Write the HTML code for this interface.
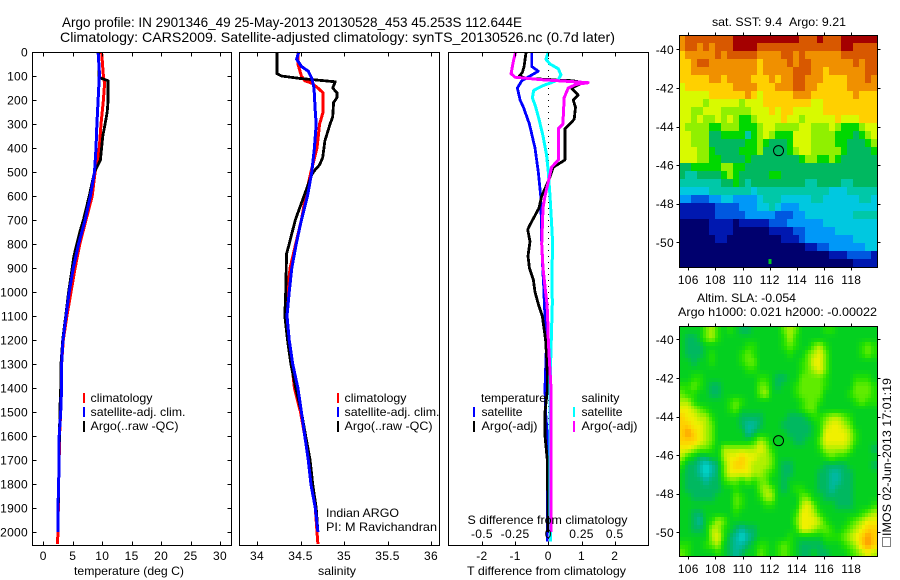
<!DOCTYPE html>
<html>
<head>
<meta charset="utf-8">
<title>Argo profile</title>
<style>
html,body{margin:0;padding:0;background:#fff;}
svg{display:block;}
text{font-family:"Liberation Sans",sans-serif;fill:#000;font-size:12px;}
.f{fill:none;stroke:#000;stroke-width:1;shape-rendering:crispEdges;}
.big{font-size:14px;}
</style>
</head>
<body>
<svg id="chart" width="900" height="580" viewBox="0 0 900 580" xmlns="http://www.w3.org/2000/svg">
<rect x="0" y="0" width="900" height="580" fill="#fff"/>
<text class="big" x="62" y="27" textLength="460" lengthAdjust="spacingAndGlyphs">Argo profile: IN 2901346_49 25-May-2013 20130528_453 45.253S 112.644E</text>
<text class="big" x="60" y="42" textLength="555" lengthAdjust="spacingAndGlyphs">Climatology: CARS2009. Satellite-adjusted climatology: synTS_20130526.nc (0.7d later)</text>
<g id="marks"></g>
<rect class="f" x="32.5" y="52.5" width="199" height="493"/>
<rect class="f" x="239.5" y="52.5" width="200" height="493"/>
<rect class="f" x="448.5" y="52.5" width="200" height="493"/>
<rect class="f" x="679.5" y="35.5" width="198" height="232"/>
<rect class="f" x="679.5" y="326.5" width="198" height="230"/>
<g id="ticks"></g>
<text x="129" y="575" text-anchor="middle" textLength="110" lengthAdjust="spacingAndGlyphs">temperature (deg C)</text>
<text x="337" y="575" text-anchor="middle" textLength="38" lengthAdjust="spacingAndGlyphs">salinity</text>
<text x="546.5" y="575" text-anchor="middle" textLength="159" lengthAdjust="spacingAndGlyphs">T difference from climatology</text>
<text x="467.5" y="524" textLength="160" lengthAdjust="spacingAndGlyphs">S difference from climatology</text>

<g>
<rect x="83" y="393" width="2" height="10" fill="#f00"/>
<text x="90.5" y="402" textLength="62" lengthAdjust="spacingAndGlyphs">climatology</text>
<rect x="83" y="407" width="2" height="10" fill="#00f"/>
<text x="90.5" y="416" textLength="95" lengthAdjust="spacingAndGlyphs">satellite-adj. clim.</text>
<rect x="83" y="421" width="2" height="11" fill="#000"/>
<text x="90.5" y="430" textLength="88" lengthAdjust="spacingAndGlyphs">Argo(..raw -QC)</text>
</g>
<g>
<rect x="337" y="393" width="2" height="10" fill="#f00"/>
<text x="344.5" y="402" textLength="62" lengthAdjust="spacingAndGlyphs">climatology</text>
<rect x="337" y="407" width="2" height="10" fill="#00f"/>
<text x="344.5" y="416" textLength="95" lengthAdjust="spacingAndGlyphs">satellite-adj. clim.</text>
<rect x="337" y="421" width="2" height="11" fill="#000"/>
<text x="344.5" y="430" textLength="88" lengthAdjust="spacingAndGlyphs">Argo(..raw -QC)</text>
</g>
<g>
<text x="481" y="402" textLength="65" lengthAdjust="spacingAndGlyphs">temperature</text>
<rect x="473" y="407" width="2" height="10" fill="#00f"/>
<text x="481.5" y="416" textLength="41" lengthAdjust="spacingAndGlyphs">satellite</text>
<rect x="473" y="421" width="2" height="11" fill="#000"/>
<text x="481.5" y="430" textLength="56" lengthAdjust="spacingAndGlyphs">Argo(-adj)</text>
<text x="581.5" y="402" textLength="38" lengthAdjust="spacingAndGlyphs">salinity</text>
<rect x="573" y="407" width="2" height="10" fill="#0ff"/>
<text x="581.5" y="416" textLength="41" lengthAdjust="spacingAndGlyphs">satellite</text>
<rect x="573" y="421" width="2" height="11" fill="#f0f"/>
<text x="581.5" y="430" textLength="56" lengthAdjust="spacingAndGlyphs">Argo(-adj)</text>
</g>
<text x="326" y="517" textLength="73" lengthAdjust="spacingAndGlyphs">Indian ARGO</text>
<text x="326" y="531" textLength="111" lengthAdjust="spacingAndGlyphs">PI: M Ravichandran</text>
<text x="712" y="26" textLength="134" lengthAdjust="spacingAndGlyphs">sat. SST: 9.4&#160;&#160;Argo: 9.21</text>
<text x="697" y="302" textLength="99" lengthAdjust="spacingAndGlyphs">Altim. SLA: -0.054</text>
<text x="678" y="316" textLength="199" lengthAdjust="spacingAndGlyphs">Argo h1000: 0.021 h2000: -0.00022</text>
<g fill="none" stroke="#000" stroke-width="1" stroke-dasharray="1 1" shape-rendering="crispEdges">
<rect x="882.5" y="537.5" width="8" height="9"/>
</g>
<text transform="translate(891,536) rotate(-90)" textLength="158" lengthAdjust="spacingAndGlyphs">IMOS 02-Jun-2013 17:01:19</text>
</svg>
<script>
/* temperature panel data: depth (m) and temperature (deg C) */
var tempClimDepth = [0,100,130,200,300,400,480,500,600,700,800,900,1000,1100,1200,1300,1400,1500,1600,1700,1800,1900,2000,2050];
var tempClimValues = [9.9,10.2,10.4,10.2,9.8,9.5,9.0,8.8,8.3,7.25,6.2,5.4,4.7,4.0,3.4,3.1,3.1,2.95,2.75,2.7,2.6,2.55,2.5,2.4];
var tempArgoDepth = [0,105,110,120,200,250,300,350,400,450,480,500,600,700,750,850,900,1000,1100,1200,1300,1400,1500,1600,1700,1800,1900,2000];
var tempArgoValues = [9.4,9.4,9.9,11.0,11.0,10.85,10.5,10.1,9.9,9.7,9.1,8.7,7.8,6.8,6.2,5.2,4.9,4.3,3.8,3.3,3.0,2.95,2.8,2.75,2.65,2.6,2.55,2.5];
var tempSatDepth = [0,80,100,200,300,400,500,600,700,800,900,1000,1100,1200,1300,1400,1500,1600,1700,1800,1900,2000];
var tempSatValues = [9.3,9.5,9.5,9.3,9.1,8.95,8.7,8.0,7.1,6.0,5.1,4.4,3.85,3.35,3.1,3.1,2.95,2.7,2.7,2.6,2.5,2.5];

/* salinity panel data */
var salClimDepth = [0,50,100,120,130,150,170,250,300,400,500,600,700,800,900,1000,1100,1200,1300,1400,1500,1600,1700,1800,1900,2000,2050];
var salClimValues = [34.475,34.47,34.51,34.55,34.63,34.70,34.76,34.76,34.72,34.69,34.62,34.56,34.51,34.445,34.38,34.35,34.33,34.36,34.40,34.43,34.50,34.55,34.59,34.63,34.67,34.69,34.70];
var salArgoDepth = [0,90,100,110,124,150,170,190,210,270,300,370,440,470,490,510,600,700,800,840,1000,1100,1200,1300,1400,1500,1600,1700,1800,1900,2000];
var salArgoValues = [34.23,34.23,34.28,34.49,34.9,34.87,34.92,34.92,34.88,34.87,34.84,34.78,34.755,34.72,34.67,34.63,34.54,34.44,34.37,34.34,34.33,34.32,34.35,34.39,34.445,34.51,34.56,34.61,34.64,34.68,34.70];
var salSatDepth = [0,30,60,80,110,150,250,300,400,500,600,700,800,900,1000,1100,1200,1300,1400,1500,1600,1700,1800,1900,2000];
var salSatValues = [34.48,34.455,34.51,34.59,34.63,34.655,34.67,34.68,34.66,34.63,34.58,34.51,34.45,34.40,34.37,34.345,34.37,34.41,34.47,34.51,34.55,34.59,34.62,34.67,34.70];

/* difference panel data */
var dTSatDepth = [0,60,80,100,120,150,200,230,300,400,500,600,700,800,900,1000,1050,1100,1200,1400,1500,1600,1700,2000,2040];
var dTSatValues = [-0.5,-0.5,-0.3,-0.55,-0.8,-0.93,-0.85,-0.75,-0.57,-0.4,-0.3,-0.23,-0.21,-0.2,-0.17,-0.13,-0.12,-0.1,-0.05,-0.1,-0.08,-0.03,-0.03,-0.03,-0.03];
var dTArgoDepth = [0,60,85,100,110,120,128,150,180,200,230,280,300,320,450,480,520,560,600,650,720,740,790,850,900,950,1000,1050,1100,1200,1300,1400,1500,1600,1700,1800,2000];
var dTArgoValues = [-0.67,-0.73,-0.78,-0.87,-0.65,0.75,1.05,0.7,0.9,0.75,0.82,0.78,0.65,0.5,0.5,0.15,0.05,-0.07,-0.2,-0.28,-0.55,-0.62,-0.55,-0.61,-0.57,-0.45,-0.4,-0.3,-0.18,-0.08,-0.04,-0.02,-0.1,-0.1,-0.03,-0.02,-0.01];
var dSSatDepth = [0,30,50,70,95,115,130,140,160,190,230,280,350,430,500,600,700,800,900,1050,1400,2000,2040];
var dSSatValues = [0,-0.018,0.013,0.075,0.095,0.075,0.013,-0.04,-0.11,-0.12,-0.095,-0.07,-0.04,-0.013,0,0.013,0.023,0.033,0.028,0.03,0.012,0.015,0.015];
var dSArgoDepth = [0,30,60,90,105,115,122,128,135,150,190,300,320,450,480,520,600,650,800,900,1000,1050,1100,1200,1300,1400,1600,2000];
var dSArgoValues = [-0.245,-0.26,-0.27,-0.28,-0.25,-0.06,0.14,0.30,0.21,0.15,0.12,0.11,0.075,0.075,0.025,0.008,-0.025,-0.04,-0.05,-0.04,-0.02,-0.01,-0.005,0,0.01,0.02,0.02,0.02];

/* tick labels */
var depthTicks = [0,100,200,300,400,500,600,700,800,900,1000,1100,1200,1300,1400,1500,1600,1700,1800,1900,2000];
var tempTicks = [0,5,10,15,20,25,30];
var salTicks = [34,34.5,35,35.5,36];
var dTTicks = [-2,-1,0,1,2];
var dSTicks = [-0.5,-0.25,0,0.25,0.5];
var lonTicks = [106,108,110,112,114,116,118];
var latTicks = [-40,-42,-44,-46,-48,-50];

/* float position */
var floatLon = 112.644;
var floatLat = -45.253;
/* isolated green grid point near the south edge of the SST map */
var sstSpotLon = 112.0;
var sstSpotLat = -51.0;

/* SST colour-scale level per grid cell, north to south */
var sstGrid = [
[11,12,12,12,12,12,12,12,12,13,13,13,13,13,13,13,13,13,13,13,12,12,12,13,12,12,12,13,13,13,13,13,13],
[11,12,12,11,12,11,12,12,12,13,13,13,13,12,12,12,12,12,12,12,12,12,12,12,12,12,12,13,13,12,12,12,12],
[10,11,11,11,11,11,12,11,12,12,12,12,12,11,11,11,11,12,12,11,12,11,11,11,11,11,11,12,12,12,12,12,12],
[10,10,11,12,12,11,11,11,11,11,11,11,11,10,11,11,11,11,12,11,12,12,11,11,11,11,11,11,11,12,11,12,12],
[10,10,11,11,11,11,11,11,11,11,11,11,11,10,11,11,11,11,11,12,12,12,11,11,10,11,11,11,11,11,11,12,12],
[10,10,10,10,10,11,11,10,11,11,11,11,10,10,10,11,10,11,11,12,12,11,11,11,10,10,10,10,11,11,11,12,11],
[9,10,10,10,10,10,10,10,10,11,11,11,11,10,10,10,11,11,11,12,12,11,11,10,10,10,10,10,11,11,11,11,11],
[9,9,9,9,9,10,10,10,10,10,10,11,10,9,10,10,10,10,10,11,11,11,10,10,10,10,10,10,10,11,10,10,10],
[9,9,9,9,8,9,9,9,9,9,8,9,9,9,10,10,10,10,10,10,10,10,9,9,10,10,10,10,10,10,10,10,10],
[9,9,8,8,9,9,9,8,8,8,8,8,9,9,9,10,9,10,10,9,9,9,9,9,10,10,10,10,10,10,10,10,10],
[9,9,8,9,8,8,9,8,9,8,7,7,8,9,9,9,9,10,9,9,8,9,9,9,9,9,10,9,9,9,10,10,10],
[9,8,8,8,8,7,7,8,8,8,7,7,7,8,9,9,8,8,8,8,9,9,8,8,8,9,8,7,7,7,8,9,9],
[9,9,8,8,8,6,6,7,7,7,7,5,7,8,9,8,7,7,7,9,9,9,8,8,8,8,7,7,7,6,7,8,9],
[9,9,8,8,8,6,6,6,6,6,6,7,7,8,7,6,6,6,7,9,9,9,8,8,8,8,7,7,6,6,6,7,8],
[9,9,9,8,8,7,6,6,6,6,7,7,7,8,6,6,6,6,7,8,9,9,8,8,8,8,8,7,6,6,6,6,7],
[9,9,9,8,8,7,7,6,6,6,6,7,6,6,6,6,6,6,6,6,7,8,8,7,7,8,7,6,6,6,6,6,6],
[6,6,7,7,7,7,7,8,8,7,7,6,6,6,6,6,6,6,6,6,6,6,6,6,6,6,6,6,6,6,6,6,6],
[6,5,5,6,6,6,6,7,8,7,6,6,6,6,6,7,7,6,6,6,6,6,6,6,6,6,6,6,6,6,6,6,6],
[5,5,5,5,5,5,5,6,6,7,6,5,6,6,6,6,6,6,6,6,6,5,5,6,6,6,6,5,5,6,6,6,6],
[4,4,4,4,4,5,5,5,5,5,5,5,4,5,5,5,5,5,5,5,5,5,5,5,5,4,4,4,5,5,5,5,5],
[3,3,2,2,2,3,3,4,4,3,3,3,3,4,5,5,5,4,4,4,4,4,5,5,4,4,4,4,4,4,5,5,4],
[1,1,1,1,1,1,2,2,2,2,3,3,3,4,4,5,4,3,3,3,4,4,4,4,4,4,4,4,4,4,4,4,4],
[1,1,1,1,1,1,2,2,2,2,2,3,3,3,3,3,2,2,2,3,3,4,4,4,4,4,4,4,4,5,5,5,5],
[0,0,0,0,0,1,1,1,1,0,1,1,1,1,1,2,2,2,3,3,3,3,3,3,4,4,4,4,4,4,4,4,4],
[0,0,0,0,0,1,1,1,1,0,0,0,0,0,0,1,1,1,1,2,2,3,3,3,3,3,4,4,4,4,4,4,4],
[0,0,0,0,0,0,1,1,0,0,0,0,0,0,0,0,0,1,1,1,2,3,3,3,3,3,3,3,3,4,4,4,4],
[0,0,0,0,0,0,0,0,0,0,0,0,0,0,0,0,0,0,0,0,0,1,1,2,2,3,3,3,3,3,3,4,4],
[0,0,0,0,0,0,0,0,0,0,0,0,0,0,0,0,0,0,0,0,0,0,0,0,0,1,1,1,2,2,2,2,1],
[0,0,0,0,0,0,0,0,0,0,0,0,0,0,0,0,0,0,0,0,0,0,0,0,0,0,0,0,0,1,1,1,1]
];

/* SLA colour-scale level per grid cell, north to south */
var slaGrid = [
[3,3,3,3,5,6,4,3,4,3,2,2,3,3,3,3,3,5,6,5,3,3,3,3,4,4,3,3,3,3,3,3,3],
[3,2,2,3,5,6,4,3,3,3,3,3,3,3,3,3,3,4,6,4,3,3,3,3,3,3,3,3,3,3,3,3,3],
[3,2,2,2,3,3,3,3,3,3,3,4,4,3,3,3,3,4,5,4,3,3,5,6,4,3,3,3,3,3,4,5,4],
[3,2,2,2,3,4,3,3,3,3,4,5,4,3,3,3,3,3,4,3,3,5,6,7,5,3,3,3,3,3,4,5,4],
[3,3,2,3,3,4,3,3,3,3,4,5,5,3,3,3,3,3,3,3,4,5,7,7,5,3,3,3,3,3,3,3,3],
[3,3,3,3,3,3,3,3,3,3,3,4,4,3,3,3,3,3,3,3,4,5,6,7,5,3,3,3,3,3,3,3,3],
[3,3,4,4,3,3,3,3,3,3,3,3,3,4,4,3,2,2,3,3,5,5,5,5,4,3,3,3,3,4,4,4,3],
[4,4,5,4,3,2,2,3,3,3,3,3,3,5,5,3,2,3,3,4,5,5,5,5,4,3,3,3,3,5,5,5,4],
[5,4,4,3,3,2,2,3,3,3,3,3,3,5,6,3,3,3,3,4,5,5,5,5,3,3,3,3,4,5,5,5,4],
[6,6,4,3,3,3,3,3,4,5,4,3,3,3,3,3,3,3,3,3,4,5,5,4,3,3,3,3,3,4,5,4,4],
[7,7,6,5,4,3,3,3,4,5,3,3,3,3,3,3,3,3,3,3,4,5,5,3,3,3,3,3,3,3,3,3,3],
[8,7,7,6,6,4,3,3,3,3,2,2,2,2,3,3,3,3,2,2,2,3,4,4,5,6,6,5,4,3,3,3,3],
[8,8,7,7,6,5,3,3,3,3,2,1,1,2,3,3,3,2,2,2,2,2,3,4,6,7,7,6,5,3,3,3,3],
[8,9,8,7,6,5,3,3,3,3,3,1,2,3,3,3,3,3,2,2,2,2,3,4,7,7,7,7,6,4,3,3,3],
[8,8,8,7,6,5,3,3,3,3,3,3,4,6,5,3,3,3,3,2,2,3,3,5,7,7,7,7,6,4,3,3,3],
[7,7,6,5,5,4,3,6,6,6,6,6,6,7,6,4,3,3,3,3,3,3,3,4,6,6,6,6,5,3,3,3,2],
[6,4,3,2,2,3,3,6,7,7,8,7,7,6,6,5,3,3,3,3,3,3,3,3,4,5,4,4,3,3,3,3,3],
[4,2,2,1,0,1,2,5,7,8,8,7,6,6,6,5,3,2,2,3,3,3,3,3,2,2,2,2,3,3,3,3,2],
[3,2,2,1,0,1,2,5,7,7,7,7,6,6,5,4,3,2,2,3,3,3,3,2,2,1,1,2,2,3,3,3,3],
[3,2,2,2,1,2,2,4,5,5,4,5,4,5,5,3,3,2,3,3,3,3,3,2,2,1,1,2,2,3,3,3,3],
[3,2,2,2,2,2,2,3,3,4,3,3,3,5,6,5,3,2,3,4,4,3,3,2,2,1,2,2,2,3,3,3,3],
[3,3,2,2,2,2,3,3,3,5,4,3,3,4,6,6,3,3,3,3,5,5,3,3,2,2,2,2,2,3,3,3,3],
[3,3,3,3,3,3,3,3,3,5,4,3,3,3,4,4,3,3,3,3,6,7,5,3,3,3,2,2,2,3,3,3,4],
[3,3,2,2,3,3,3,3,3,4,3,3,3,3,3,3,3,3,3,4,7,7,6,4,3,3,3,3,3,3,4,5,6],
[3,3,2,1,3,4,6,5,3,3,3,3,3,3,3,3,3,3,3,5,7,7,7,6,4,3,3,3,4,5,6,7,7],
[3,3,2,2,3,6,6,4,3,2,1,2,2,3,3,3,3,3,3,4,7,7,6,5,5,4,3,4,5,6,7,8,8],
[3,3,3,3,3,6,7,4,2,1,0,1,2,3,3,3,3,3,4,3,3,3,3,3,4,4,4,5,6,7,8,9,8],
[4,4,3,3,4,5,6,3,2,1,1,2,3,4,4,3,4,5,4,3,2,2,2,2,3,3,3,4,5,6,8,9,8],
[5,4,3,3,3,3,4,3,2,1,2,3,3,5,4,3,4,5,4,3,2,2,3,2,2,3,3,3,4,5,6,7,6]
];

var sstColors = ['#00006e','#0018b0','#0058e0','#0098f8','#00c8e0','#00c8a8','#00b860','#00d800','#90f000','#d8fa00','#ffd000','#f09000','#d85800','#a40000'];
var slaColors = ['#00d8d0','#00b8a0','#00b860','#04d020','#20e000','#60ec00','#b0f000','#f0f000','#ffd000','#ff9800'];

var svgNS = 'http://www.w3.org/2000/svg';
var marks = document.getElementById('marks');
var ticks = document.getElementById('ticks');

function mk(tag, parent, attrs) {
  var el = document.createElementNS(svgNS, tag);
  for (var k in attrs) el.setAttribute(k, attrs[k]);
  parent.appendChild(el);
  return el;
}

/* axis functions */
function yDepth(d) { return 52 + d * 0.24; }
function xTemp(t) { return 43.3 + t * 5.89; }
function xSal(s) { return 257 + (s - 34) * 87; }
function xDT(t) { return 548.3 + t * 33.2; }
function xDS(s) { return 548.3 + s * 132.8; }
function xLon(lon) { return 688.3 + (lon - 106) * 13.58; }
function ySst(lat) { return 49.3 + (-40 - lat) * 19.3; }
function ySla(lat) { return 339.3 + (-40 - lat) * 19.3; }

function pts(depths, values, xf) {
  var out = [];
  for (var i = 0; i < values.length; i++) {
    out.push(xf(values[i]).toFixed(1) + ',' + yDepth(depths[i]).toFixed(1));
  }
  return out.join(' ');
}

function line(depths, values, xf, color, width) {
  return mk('polyline', marks, {
    points: pts(depths, values, xf),
    fill: 'none',
    stroke: color,
    'stroke-width': width,
    'stroke-linejoin': 'round',
    'shape-rendering': 'crispEdges'
  });
}

/* colour for a fractional level on a stop list */
function ramp(stops, v) {
  var n = stops.length - 1;
  var lv = Math.max(0, Math.min(n, v));
  var a = Math.floor(lv), b = Math.min(n, a + 1), f = lv - a;
  var out = '#';
  for (var p = 1; p < 7; p += 2) {
    var ca = parseInt(stops[a].substr(p, 2), 16);
    var cb = parseInt(stops[b].substr(p, 2), 16);
    var m = Math.round(ca + (cb - ca) * f).toString(16);
    out += m.length < 2 ? '0' + m : m;
  }
  return out;
}

/* smooth sampling of a grid at fractional cell coordinates */
function sampleGrid(grid, u, w) {
  var nr = grid.length, nc = grid[0].length;
  var cu = Math.max(0, Math.min(nc - 1, u));
  var cw = Math.max(0, Math.min(nr - 1, w));
  var c0 = Math.floor(cu), r0 = Math.floor(cw);
  var c1 = Math.min(nc - 1, c0 + 1), r1 = Math.min(nr - 1, r0 + 1);
  var fu = cu - c0, fw = cw - r0;
  return (grid[r0][c0] * (1 - fu) + grid[r0][c1] * fu) * (1 - fw) + (grid[r1][c0] * (1 - fu) + grid[r1][c1] * fu) * fw;
}

var el;

/* heatmaps */
var sstLonW = 105.34, sstLonE = 119.92, sstLatN = -39.27, sstLatS = -51.3;
var r, c, cell, x0, x1, y0, y1, dLon, dLat;
dLon = (sstLonE - sstLonW) / sstGrid[0].length;
dLat = (sstLatN - sstLatS) / sstGrid.length;
for (r = 0; r < sstGrid.length; r++) {
  for (c = 0; c < sstGrid[r].length; c++) {
    x0 = Math.round(xLon(sstLonW + c * dLon));
    x1 = Math.round(xLon(sstLonW + (c + 1) * dLon));
    y0 = Math.round(ySst(sstLatN - r * dLat));
    y1 = Math.round(ySst(sstLatN - (r + 1) * dLat));
    cell = mk('rect', marks, {x: x0, y: y0, width: x1 - x0, height: y1 - y0, fill: sstColors[sstGrid[r][c]], 'shape-rendering': 'crispEdges'});
    
    
  }
}
var slaLatN = -39.31, slaLatS = -51.26;
var slaSub = 2;
var slaCols = slaGrid[0].length * slaSub, slaRows = slaGrid.length * slaSub;
var slaDLon = (sstLonE - sstLonW) / slaCols;
var slaDLat = (slaLatN - slaLatS) / slaRows;
for (r = 0; r < slaRows; r++) {
  for (c = 0; c < slaCols; c++) {
    x0 = Math.round(xLon(sstLonW + c * slaDLon));
    x1 = Math.round(xLon(sstLonW + (c + 1) * slaDLon));
    y0 = Math.round(ySla(slaLatN - r * slaDLat));
    y1 = Math.round(ySla(slaLatN - (r + 1) * slaDLat));
    cell = mk('rect', marks, {x: x0, y: y0, width: x1 - x0, height: y1 - y0, fill: ramp(slaColors, sampleGrid(slaGrid, (c + 0.5) / slaSub - 0.5, (r + 0.5) / slaSub - 0.5)), 'shape-rendering': 'crispEdges'});
    
    
  }
}
el = mk('rect', marks, {x: xLon(sstSpotLon) - 1.5, y: ySst(sstSpotLat) - 2.5, width: 3, height: 5, fill: '#00c820', 'shape-rendering': 'crispEdges'});



/* float location circles */
el = mk('circle', marks, {cx: xLon(floatLon), cy: ySst(floatLat), r: 5, fill: 'none', stroke: '#000', 'stroke-width': 1});


el = mk('circle', marks, {cx: xLon(floatLon), cy: ySla(floatLat), r: 5, fill: 'none', stroke: '#000', 'stroke-width': 1});



/* zero line */
el = mk('line', marks, {x1: xDT(0), x2: xDT(0), y1: yDepth(0) , y2: 545, stroke: '#000', 'stroke-width': 1, 'stroke-dasharray': '1 5', 'shape-rendering': 'crispEdges'});



/* profile lines */
el = line(tempClimDepth, tempClimValues, xTemp, '#f00', 3);


el = line(tempArgoDepth, tempArgoValues, xTemp, '#000', 2.8);


el = line(tempSatDepth, tempSatValues, xTemp, '#00f', 3);



el = line(salClimDepth, salClimValues, xSal, '#f00', 3);


el = line(salArgoDepth, salArgoValues, xSal, '#000', 2.8);


el = line(salSatDepth, salSatValues, xSal, '#00f', 3);



el = line(dTSatDepth, dTSatValues, xDT, '#00f', 2.8);


el = line(dTArgoDepth, dTArgoValues, xDT, '#000', 2.8);


el = line(dSSatDepth, dSSatValues, xDS, '#0ff', 3);


el = line(dSArgoDepth, dSArgoValues, xDS, '#f0f', 3);



/* ticks */
function tick(x1, y1, x2, y2) {
  return mk('line', ticks, {x1: Math.round(x1) + 0.5, y1: Math.round(y1) + 0.5, x2: Math.round(x2) + 0.5, y2: Math.round(y2) + 0.5, stroke: '#000', 'stroke-width': 1, 'shape-rendering': 'crispEdges'});
}
function label(x, y, text, anchor) {
  var t = mk('text', ticks, {x: x, y: y, 'text-anchor': anchor, 'letter-spacing': '0.3'});
  t.textContent = text;
  return t;
}
function fmt(v) { return String(v); }

var i, t, lb;
for (i = 0; i < depthTicks.length; i++) {
  t = tick(32, yDepth(depthTicks[i]), 36, yDepth(depthTicks[i]));
  
  
  t = tick(227, yDepth(depthTicks[i]), 231, yDepth(depthTicks[i]));
  
  
  lb = label(28, yDepth(depthTicks[i]) + 4.5, fmt(depthTicks[i]), 'end');
  
  
}
for (i = 0; i < tempTicks.length; i++) {
  t = tick(xTemp(tempTicks[i]), 545, xTemp(tempTicks[i]), 541);
  
  
  t = tick(xTemp(tempTicks[i]), 52, xTemp(tempTicks[i]), 56);
  
  
  lb = label(xTemp(tempTicks[i]), 560, fmt(tempTicks[i]), 'middle');
  
  
}
for (i = 0; i < salTicks.length; i++) {
  t = tick(xSal(salTicks[i]), 545, xSal(salTicks[i]), 541);
  
  
  t = tick(xSal(salTicks[i]), 52, xSal(salTicks[i]), 56);
  
  
  lb = label(xSal(salTicks[i]), 560, fmt(salTicks[i]), 'middle');
  
  
}
for (i = 0; i < dTTicks.length; i++) {
  t = tick(xDT(dTTicks[i]), 545, xDT(dTTicks[i]), 541);
  
  
  t = tick(xDT(dTTicks[i]), 52, xDT(dTTicks[i]), 56);
  
  
  lb = label(xDT(dTTicks[i]), 560, fmt(dTTicks[i]), 'middle');
  
  
}
for (i = 0; i < dSTicks.length; i++) {
  lb = label(xDS(dSTicks[i]), 538, fmt(dSTicks[i]), 'middle');
  
  
}
for (i = 0; i < lonTicks.length; i++) {
  t = tick(xLon(lonTicks[i]), 35, xLon(lonTicks[i]), 32);
  
  
  t = tick(xLon(lonTicks[i]), 267, xLon(lonTicks[i]), 270);
  
  
  lb = label(xLon(lonTicks[i]), 284, fmt(lonTicks[i]), 'middle');
  
  
  t = tick(xLon(lonTicks[i]), 326, xLon(lonTicks[i]), 323);
  
  
  t = tick(xLon(lonTicks[i]), 556, xLon(lonTicks[i]), 559);
  
  
  lb = label(xLon(lonTicks[i]), 573, fmt(lonTicks[i]), 'middle');
  
  
}
for (i = 0; i < latTicks.length; i++) {
  t = tick(679, ySst(latTicks[i]), 676, ySst(latTicks[i]));
  
  
  t = tick(877, ySst(latTicks[i]), 880, ySst(latTicks[i]));
  
  
  lb = label(674, ySst(latTicks[i]) + 4.5, fmt(latTicks[i]), 'end');
  
  
  t = tick(679, ySla(latTicks[i]), 676, ySla(latTicks[i]));
  
  
  t = tick(877, ySla(latTicks[i]), 880, ySla(latTicks[i]));
  
  
  lb = label(674, ySla(latTicks[i]) + 4.5, fmt(latTicks[i]), 'end');
  
  
}
</script>
</body>
</html>
